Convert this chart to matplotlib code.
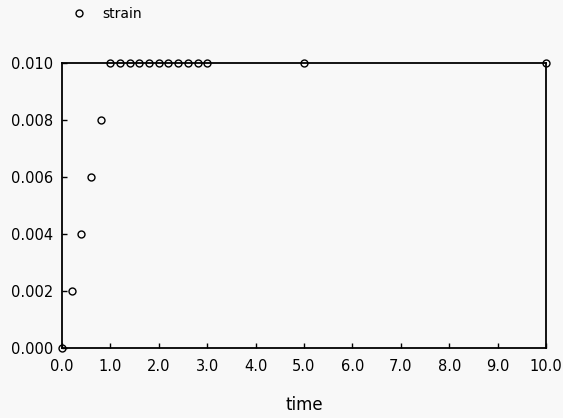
import matplotlib.pyplot as plt
from matplotlib.lines import Line2D

# data
time = [0.0, 0.2, 0.4, 0.6, 0.8, 1.0, 1.2, 1.4, 1.6, 1.8, 2.0,
        2.2, 2.4, 2.6, 2.8, 3.0, 5.0, 10.0]
strain = [0.0, 0.002, 0.004, 0.006, 0.008, 0.010, 0.010, 0.010, 0.010, 0.010, 0.010,
          0.010, 0.010, 0.010, 0.010, 0.010, 0.010, 0.010]
xticks = [0, 1, 2, 3, 4, 5, 6, 7, 8, 9, 10]
yticks = [0.0, 0.002, 0.004, 0.006, 0.008, 0.010]

plt.rcParams['font.family'] = ['DejaVu Sans']
bg = '#f8f8f8'

fig = plt.figure(figsize=(5.63, 4.18), dpi=100, facecolor=bg)
ax = fig.add_axes([0.1101, 0.1675, 0.8597, 0.6818], facecolor=bg)

ax.plot(time, strain, linestyle='none', marker='o', markersize=5,
        markerfacecolor='none', markeredgecolor='black', markeredgewidth=1.0,
        clip_on=False, zorder=3)

ax.set_xlim(0, 10)
ax.set_ylim(0, 0.010)
ax.set_xticks(xticks)
ax.set_xticklabels(['%.1f' % t for t in xticks])
ax.set_yticks(yticks)
ax.set_yticklabels(['%.3f' % t for t in yticks])
ax.tick_params(direction='in', length=3.5, width=1, labelsize=10.5)
ax.tick_params(axis='x', pad=8)
ax.tick_params(axis='y', pad=6.5)

for s in ax.spines.values():
    s.set_linewidth(1.3)

ax.set_xlabel('time', fontsize=12, labelpad=16)

# legend sits above the axes box, top-left
h = Line2D([], [], linestyle='none', marker='o', markersize=5,
           markerfacecolor='none', markeredgecolor='black', markeredgewidth=1.0)
fig.legend([h], ['strain'], loc='center left', bbox_to_anchor=(0.128, 0.967),
           frameon=False, fontsize=10, handlelength=1, handletextpad=1.2,
           borderpad=0, borderaxespad=0)

fig.savefig('out.png', dpi=100, facecolor=bg)
